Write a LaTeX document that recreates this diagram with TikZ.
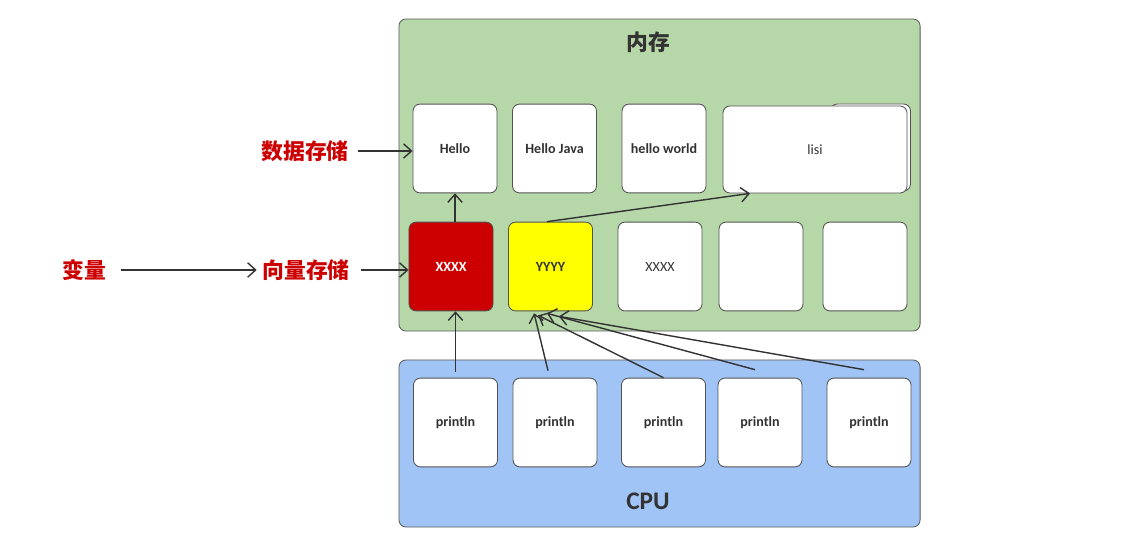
\documentclass[tikz,border=0pt]{standalone}
\usepackage{fontspec}
\setmainfont{Carlito}
\newfontfamily\cjk{Noto Sans CJK SC}
\usetikzlibrary{arrows.meta,calc}
\definecolor{memgreen}{HTML}{B6D7A8}
\definecolor{cpublue}{HTML}{A0C4F6}
\definecolor{varred}{HTML}{CC0000}
\definecolor{varyellow}{HTML}{FFFF00}
\definecolor{lineg}{HTML}{333333}
\tikzset{
  area/.style={rectangle, rounded corners=5pt, draw=lineg!80, line width=0.6pt},
  cell/.style={rectangle, rounded corners=5pt, draw=lineg!85, line width=0.6pt, fill=white, text=lineg, minimum width=2.1cm, minimum height=2.22cm, font=\bfseries\fontsize{10}{12}\selectfont},
  tag/.style={font=\cjk\bfseries\fontsize{15.5}{18}\selectfont, text=varred, inner sep=1pt},
  link/.style={-{Straight Barb[length=2mm,width=3.6mm]}, line width=1pt, draw=lineg}
}
\begin{document}
\begin{tikzpicture}[x=0.025cm, y=-0.025cm]
\useasboundingbox (0,0) rectangle (1129,543);
% memory and cpu areas
\node[area, fill=memgreen, minimum width=13.025cm, minimum height=7.8cm] (mem) at (659.5,175) {};
\node[font=\cjk\bfseries\fontsize{15.5}{18}\selectfont, text=lineg] (memtitle) at (648,42) {内存};
\node[area, fill=cpublue, minimum width=13.025cm, minimum height=4.175cm] (cpu) at (659.5,443.5) {};
\node[font=\bfseries\fontsize{18}{20}\selectfont, text=lineg] (cputitle) at (648,501) {CPU};
% data row
\node[cell] (hello) at (455,148.5) {Hello};
\node[cell] (hellojava) at (554.5,148.5) {Hello Java};
\node[cell] (helloworld) at (664,148.5) {hello world};
\node[cell, minimum width=2.0cm, minimum height=2.175cm] (lisiback) at (870.5,147.5) {};
\node[cell, font=\fontsize{10}{12}\selectfont, minimum width=4.6cm, minimum height=2.175cm] (lisi) at (815,149.5) {lisi};
% variable row
\node[cell, fill=varred, text=white] (varx) at (451,266.5) {XXXX};
\node[cell, fill=varyellow] (vary) at (550.5,266.5) {YYYY};
\node[cell, font=\fontsize{10}{12}\selectfont] (varx2) at (660,266.5) {XXXX};
\node[cell] (free1) at (761,266.5) {};
\node[cell] (free2) at (865,266.5) {};
% cpu row
\node[cell] (p1) at (455.5,422.5) {println};
\node[cell] (p2) at (555,422.5) {println};
\node[cell] (p3) at (663.5,422.5) {println};
\node[cell] (p4) at (760,422.5) {println};
\node[cell] (p5) at (869,422.5) {println};
% labels
\node[tag] (store) at (305,151) {数据存储};
\node[tag] (vecstore) at (306,270) {向量存储};
\node[tag] (var) at (84,270) {变量};
% arrows
\draw[link] ([xshift=0.2cm]store.east) -- (hello.west |- store.east);
\draw[link] ([xshift=0.25cm]vecstore.east) -- (varx.west |- vecstore.east);
\draw[link] ([xshift=0.33cm]var.east) -- ([xshift=-0.1cm]vecstore.west);
\draw[link] (hello.south |- varx.north) -- (hello.south);
\draw[link] ([xshift=-0.09cm]vary.north) -- ([xshift=-1.625cm]lisi.south);
\draw[link] ([yshift=0.15cm]p1.north) -- (p1.north |- varx.south);
\draw[link] ([xshift=-0.175cm,yshift=0.175cm]p2.north) -- ([xshift=-0.41cm,yshift=-0.05cm]vary.south);
\draw[link] (p3.north) -- ([xshift=-0.31cm,yshift=-0.1cm]vary.south);
\draw[link] ([xshift=-0.125cm,yshift=0.2cm]p4.north) -- ([xshift=-0.09cm,yshift=-0.05cm]vary.south);
\draw[link] ([xshift=-0.125cm,yshift=0.2cm]p5.north) -- ([xshift=0.21cm,yshift=-0.125cm]vary.south);
\end{tikzpicture}
\end{document}
